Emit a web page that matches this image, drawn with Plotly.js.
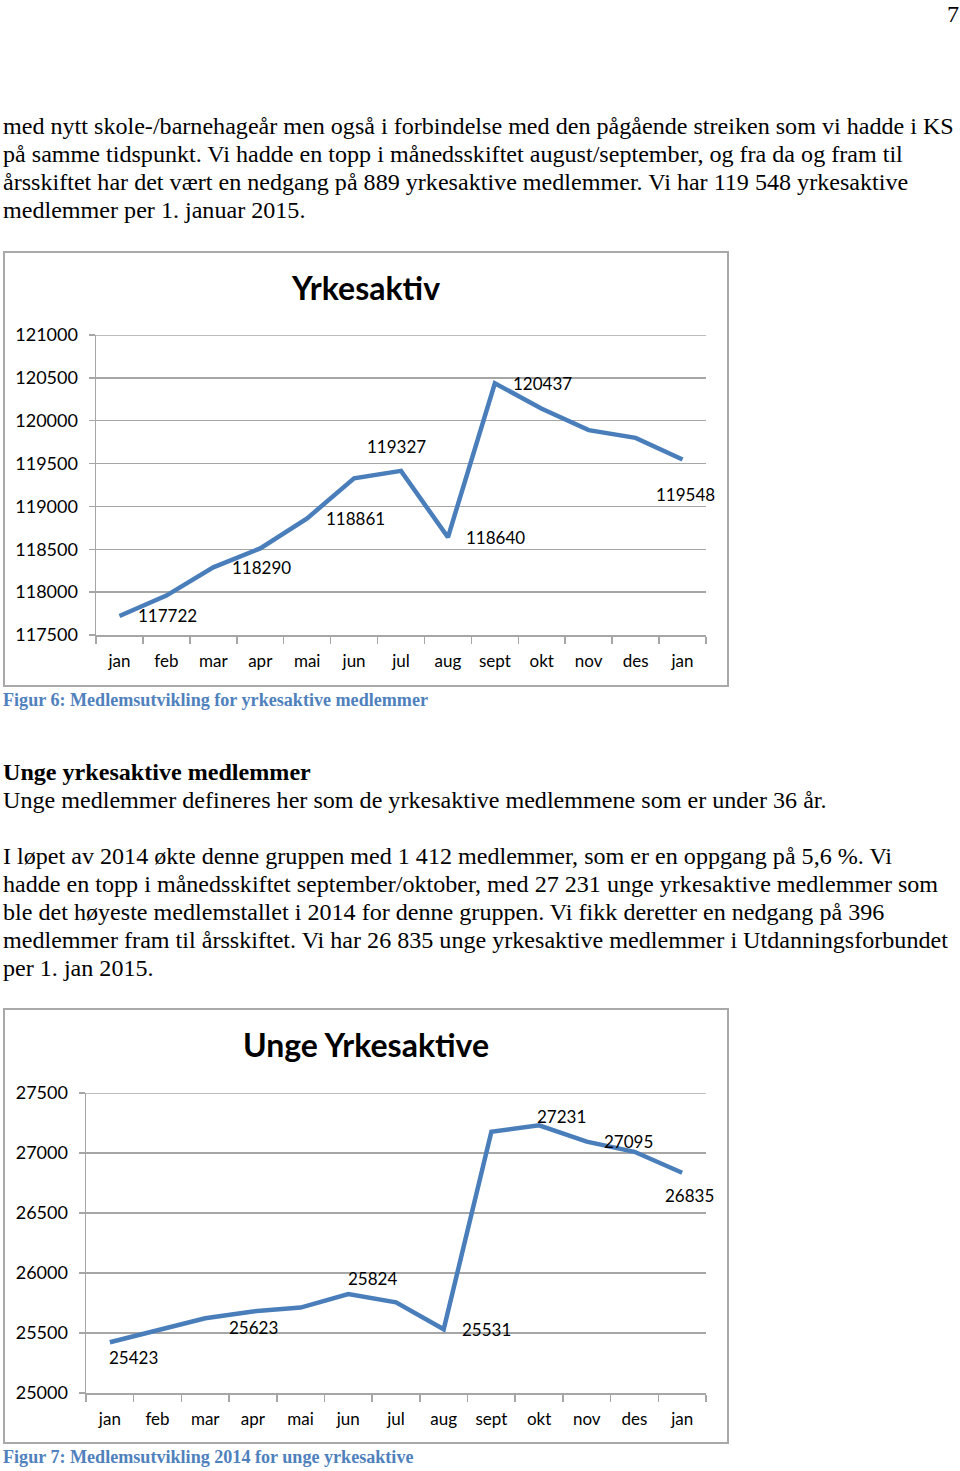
<!DOCTYPE html>
<html>
<head>
<meta charset="utf-8">
<script src="https://cdn.plot.ly/plotly-3.0.1.min.js"></script>
<style>
  html, body { margin: 0; padding: 0; background: #fff; }
  #page { position: relative; width: 960px; height: 1471px; overflow: hidden; font-family: "Liberation Serif", "Times New Roman", serif; color: #000; }
  .ln { position: absolute; left: 3px; white-space: nowrap; font-size: 24.1px; line-height: 28px; }
  .cap { position: absolute; left: 3px; white-space: nowrap; font-size: 18.1px; line-height: 20px; font-weight: bold; color: #4F81BD; }
  .box { position: absolute; left: 3px; width: 722px; height: 432px; border: 2px solid #a9a9a9; background: #fff; }
  .plot { width: 722px; height: 432px; }
</style>
</head>
<body>
<div id="page">
  <div class="ln" style="left:947px; top:0px;">7</div>

  <div class="ln" style="top:112px;">med nytt skole-/barnehageår men også i forbindelse med den pågående streiken som vi hadde i KS</div>
  <div class="ln" style="top:140px;">på samme tidspunkt. Vi hadde en topp i månedsskiftet august/september, og fra da og fram til</div>
  <div class="ln" style="top:168px;">årsskiftet har det vært en nedgang på 889 yrkesaktive medlemmer. Vi har 119 548 yrkesaktive</div>
  <div class="ln" style="top:196px;">medlemmer per 1. januar 2015.</div>

  <div class="box" style="top:251px;"><div id="chart1" class="plot"></div></div>
  <div class="cap" style="top:690px;">Figur 6: Medlemsutvikling for yrkesaktive medlemmer</div>

  <div class="ln" style="top:758px; font-weight:bold;">Unge yrkesaktive medlemmer</div>
  <div class="ln" style="top:786px;">Unge medlemmer defineres her som de yrkesaktive medlemmene som er under 36 år.</div>
  <div class="ln" style="top:842px;">I løpet av 2014 økte denne gruppen med 1 412 medlemmer, som er en oppgang på 5,6 %. Vi</div>
  <div class="ln" style="top:870px;">hadde en topp i månedsskiftet september/oktober, med 27 231 unge yrkesaktive medlemmer som</div>
  <div class="ln" style="top:898px;">ble det høyeste medlemstallet i 2014 for denne gruppen. Vi fikk deretter en nedgang på 396</div>
  <div class="ln" style="top:926px;">medlemmer fram til årsskiftet. Vi har 26 835 unge yrkesaktive medlemmer i Utdanningsforbundet</div>
  <div class="ln" style="top:954px;">per 1. jan 2015.</div>

  <div class="box" style="top:1008px;"><div id="chart2" class="plot"></div></div>
  <div class="cap" style="top:1447px;">Figur 7: Medlemsutvikling 2014 for unge yrkesaktive</div>
</div>

<script>
// ---- data ----
const months = ['jan','feb','mar','apr','mai','jun','jul','aug','sept','okt','nov','des','jan'];
const yrkesaktiv = [117722, 117960, 118290, 118510, 118861, 119327, 119415, 118640, 120437, 120140, 119890, 119800, 119548];
const unge = [25423, 25522, 25623, 25680, 25712, 25824, 25756, 25531, 27177, 27231, 27095, 27010, 26835];
const yrkesaktivLabeled = [0, 2, 4, 5, 7, 8, 12];
const ungeLabeled = [0, 2, 5, 7, 9, 10, 12];

// ---- label placement (style) ----
const yrkesaktivLabelShift = [[48,0],[48,0],[48,0],[42,32],[48,0],[48,0],[3,-35]];
const ungeLabelShift = [[24,-15],[48,-9],[24,16],[43,0],[22,9],[42,0],[7,-23]];

const FONT = 'Lato, "Open Sans", sans-serif';
const LINE = '#4A7EBB';
const GRID = '#a6a6a6';

function makeChart(id, title, values, labeled, shifts, yrange, margin) {
  const xs = values.map((v, i) => i);
  const trace = {
    x: xs, y: values, type: 'scatter', mode: 'lines',
    line: { color: LINE, width: 4.5 },
    hoverinfo: 'skip'
  };
  const annotations = labeled.map((idx, k) => ({
    x: idx, y: values[idx], xref: 'x', yref: 'y',
    text: String(values[idx]), showarrow: false,
    xanchor: 'center', yanchor: 'middle',
    xshift: shifts[k][0], yshift: shifts[k][1],
    font: { family: FONT, size: 17, color: '#000' }
  }));
  const layout = {
    width: 722, height: 432,
    margin: margin,
    paper_bgcolor: '#fff', plot_bgcolor: '#fff',
    showlegend: false,
    title: {
      text: title, x: 0.5, xanchor: 'center', xref: 'container',
      y: 1 - 36 / 432, yanchor: 'middle', yref: 'container',
      font: { family: FONT, size: 32, weight: 700, color: '#000' }
    },
    xaxis: {
      range: [-0.5, values.length - 0.5],
      tickmode: 'array', tickvals: xs, ticktext: months,
      ticks: '', showgrid: false, zeroline: false,
      showline: true, linecolor: GRID, linewidth: 1.5,
      tickfont: { family: FONT, size: 17, color: '#000' },
      ticklabelstandoff: 10,
      minor: { tickmode: 'linear', tick0: -0.5, dtick: 1, ticks: 'outside', ticklen: 7, tickwidth: 1.5, tickcolor: GRID, showgrid: false }
    },
    yaxis: {
      range: yrange, dtick: 500, tick0: yrange[0],
      ticks: 'outside', ticklen: 6, tickwidth: 1.5, tickcolor: GRID,
      showgrid: true, gridcolor: GRID, gridwidth: 1.5,
      showline: true, linecolor: GRID, linewidth: 1.5, zeroline: false,
      tickfont: { family: FONT, size: 18, color: '#000' },
      ticklabelstandoff: 7, tickformat: 'd'
    },
    shapes: [{
      type: 'line', xref: 'paper', x0: 0, x1: 1, yref: 'y', y0: yrange[1], y1: yrange[1],
      line: { color: GRID, width: 1.5 }, layer: 'below'
    }],
    annotations: annotations
  };
  Plotly.newPlot(id, [trace], layout, { staticPlot: true, displayModeBar: false });
}

makeChart('chart1', 'Yrkesaktiv', yrkesaktiv, yrkesaktivLabeled, yrkesaktivLabelShift,
  [117500, 121000], { l: 91, r: 21, t: 82, b: 50, pad: 0 });
makeChart('chart2', 'Unge Yrkesaktive', unge, ungeLabeled, ungeLabelShift,
  [25000, 27500], { l: 81, r: 21, t: 83, b: 49, pad: 0 });
</script>
</body>
</html>
